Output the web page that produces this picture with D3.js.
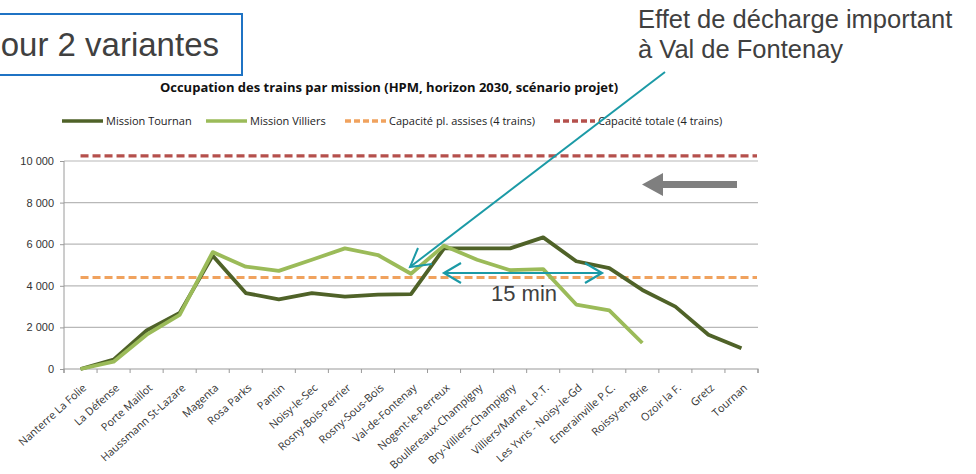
<!DOCTYPE html>
<html>
<head>
<meta charset="utf-8">
<script src="https://cdn.jsdelivr.net/npm/d3@7"></script>
<style>
body{margin:0;background:#fff;}
svg{display:block;font-family:"Open Sans",sans-serif;}
</style>
</head>
<body>
<script>
// stations along the line
var stations = ["Nanterre La Folie","La Défense","Porte Maillot","Haussmann St-Lazare","Magenta","Rosa Parks","Pantin","Noisy-le-Sec","Rosny-Bois-Perrier","Rosny-Sous-Bois","Val-de-Fontenay","Nogent-le-Perreux","Boullereaux-Champigny","Bry-Villiers-Champigny","Villiers/Marne L.P.T.","Les Yvris - Noisy-le-Gd","Emerainville P.C.","Roissy-en-Brie","Ozoir la F.","Gretz","Tournan"];
var tournan = [0,450,1850,2700,5450,3650,3350,3650,3480,3580,3600,5800,5800,5800,6330,5180,4850,3800,3000,1650,1000];
var villiers = [0,350,1650,2600,5620,4920,4720,5250,5800,5480,4580,5930,5250,4750,4800,3100,2820,1250,null,null,null];
var capAssises = 4400;
var capTotale = 10250;
var yTicks = [0,2000,4000,6000,8000,10000];

var W = 976, H = 474;
var svg = d3.select("body").append("svg").attr("width", W).attr("height", H);

var x = d3.scaleBand().domain(stations).range([64, 758]);
var y = d3.scaleLinear().domain([0, 10000]).range([369, 161]);
var fmt = function(d){ return d3.format(",")(d).replace(",", " "); };

// grid
svg.selectAll(".grid").data(yTicks.slice(1)).enter().append("line")
	.attr("x1", 64).attr("x2", 758)
	.attr("y1", function(d){ return y(d); }).attr("y2", function(d){ return y(d); })
	.attr("stroke", "#b8b8b8").attr("stroke-width", 1.2);

// y axis
var yAxis = svg.append("g").attr("transform", "translate(64,0)")
	.call(d3.axisLeft(y).tickValues(yTicks).tickSize(4).tickPadding(6).tickFormat(fmt));
yAxis.select(".domain").attr("stroke", "#9a9a9a").attr("d", "M0," + y(0) + "V" + y(10000));
yAxis.selectAll(".tick line").attr("stroke", "#9a9a9a");
yAxis.selectAll("text").attr("fill", "#333").style("font-size", "11px");

// x axis
var xAxis = svg.append("g").attr("transform", "translate(0," + y(0) + ")")
	.call(d3.axisBottom(x).tickSize(0).tickFormat(""));
xAxis.select(".domain").attr("stroke", "#9a9a9a").attr("stroke-width", 1.2).attr("d", "M64,4V0H758V4");
var edges = stations.map(function(s){ return x(s); }).concat([758]);
svg.selectAll(".xt").data(edges).enter().append("line")
	.attr("x1", function(d){ return d; }).attr("x2", function(d){ return d; })
	.attr("y1", y(0)).attr("y2", y(0) + 4)
	.attr("stroke", "#9a9a9a");
svg.selectAll(".xl").data(stations).enter().append("text")
	.attr("transform", function(d){ return "translate(" + (x(d) + x.bandwidth()/2 + 4) + "," + (y(0) + 17) + ") rotate(-42)"; })
	.attr("text-anchor", "end").attr("dy", "0.35em")
	.attr("fill", "#333").style("font-size", "10.8px")
	.text(function(d){ return d; });

// capacity lines
var cx0 = x(stations[0]) + x.bandwidth()/2;
svg.append("line").attr("x1", cx0).attr("x2", 757)
	.attr("y1", y(capAssises)).attr("y2", y(capAssises))
	.attr("stroke", "#f0a25e").attr("stroke-width", 3.2).attr("stroke-dasharray", "8,4");
svg.append("line").attr("x1", cx0).attr("x2", 757)
	.attr("y1", y(capTotale)).attr("y2", y(capTotale))
	.attr("stroke", "#b5504c").attr("stroke-width", 3.2).attr("stroke-dasharray", "8,4");

// series
var line = d3.line()
	.defined(function(d){ return d != null; })
	.x(function(d, i){ return x(stations[i]) + x.bandwidth()/2; })
	.y(function(d){ return y(d); });
svg.append("path").datum(tournan).attr("d", line)
	.attr("fill", "none").attr("stroke", "#4f6228").attr("stroke-width", 3.8).attr("stroke-linejoin", "round");
svg.append("path").datum(villiers).attr("d", line)
	.attr("fill", "none").attr("stroke", "#9bbb59").attr("stroke-width", 3.8).attr("stroke-linejoin", "round");

// title
svg.append("text").attr("x", 389).attr("y", 92).attr("text-anchor", "middle")
	.style("font-size", "13px").style("font-weight", "bold").attr("fill", "#111")
	.text("Occupation des trains par mission (HPM, horizon 2030, scénario projet)");

// legend
var legend = [
	{label: "Mission Tournan", x: 62, color: "#4f6228", dash: null},
	{label: "Mission Villiers", x: 206, color: "#9bbb59", dash: null},
	{label: "Capacité pl. assises (4 trains)", x: 345, color: "#f0a25e", dash: "6,3"},
	{label: "Capacité totale (4 trains)", x: 554, color: "#b5504c", dash: "6,3"}
];
legend.forEach(function(l){
	svg.append("line").attr("x1", l.x).attr("x2", l.x + 41).attr("y1", 121).attr("y2", 121)
		.attr("stroke", l.color).attr("stroke-width", 3.5).attr("stroke-dasharray", l.dash);
	svg.append("text").attr("x", l.x + 44).attr("y", 121).attr("dy", "0.35em")
		.style("font-size", "11px").attr("fill", "#222").text(l.label);
});

// boxed caption top-left (cut at the left edge, as in the slide)
svg.append("rect").attr("x", -10).attr("y", 14).attr("width", 252).attr("height", 61)
	.attr("fill", "none").attr("stroke", "#1f73c4").attr("stroke-width", 2);
svg.append("text").attr("x", 219).attr("y", 56).attr("text-anchor", "end")
	.style("font-family", "Liberation Sans, Arial, sans-serif").style("font-size", "33px").attr("fill", "#404040")
	.text("pour 2 variantes");

// annotation top-right
svg.append("text").attr("x", 638).attr("y", 28)
	.style("font-family", "Liberation Sans, Arial, sans-serif").style("font-size", "25.5px").attr("fill", "#404040")
	.text("Effet de décharge important");
svg.append("text").attr("x", 638).attr("y", 58)
	.style("font-family", "Liberation Sans, Arial, sans-serif").style("font-size", "25.5px").attr("fill", "#404040")
	.text("à Val de Fontenay");

var teal = "#1b9aa6";
svg.append("line").attr("x1", 665).attr("y1", 72).attr("x2", 410).attr("y2", 267)
	.attr("stroke", teal).attr("stroke-width", 2);
svg.append("path").attr("d", "M418,248L410,267L432,264")
	.attr("fill", "none").attr("stroke", teal).attr("stroke-width", 2);

// 15 min double arrow
svg.append("line").attr("x1", 444).attr("x2", 602).attr("y1", 273).attr("y2", 273)
	.attr("stroke", teal).attr("stroke-width", 2.2);
svg.append("path").attr("d", "M461,263L444,273L461,283M585,263L602,273L585,283")
	.attr("fill", "none").attr("stroke", teal).attr("stroke-width", 2.2);
svg.append("text").attr("x", 524).attr("y", 301).attr("text-anchor", "middle")
	.style("font-family", "Liberation Sans, Arial, sans-serif").style("font-size", "22px").attr("fill", "#404040")
	.text("15 min");

// direction arrow
svg.append("path").attr("d", "M737,181L663,181L663,173L642,184.5L663,196L663,188L737,188Z")
	.attr("fill", "#7f7f7f");
</script>
</body>
</html>
